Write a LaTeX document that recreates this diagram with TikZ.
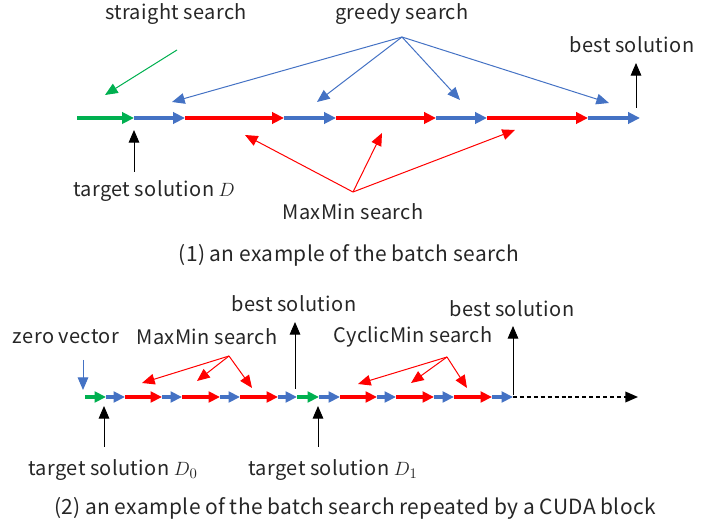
\documentclass[tikz,border=0pt]{standalone}
\usepackage{fontspec}
\setmainfont[WordSpace=0.9,LetterSpace=2]{Noto Sans CJK JP}
\usetikzlibrary{arrows.meta}
\definecolor{sgreen}{RGB}{0,176,80}
\definecolor{gblue}{RGB}{68,114,196}
\definecolor{mred}{RGB}{255,0,0}
\tikzset{
  seg/.style={line width=2.5pt,-{Triangle[length=9pt,width=8.5pt]}},
  smallseg/.style={line width=2.4pt,-{Triangle[length=8.5pt,width=8pt]}},
  pointer/.style={line width=0.75pt,-{Triangle[length=9.5pt,width=8pt]}},
  lbl/.style={font=\fontsize{15}{18}\selectfont,inner sep=0pt,text=black!85},
  caption/.style={lbl,font=\fontsize{15.7}{18}\selectfont}
}
\begin{document}
\begin{tikzpicture}[x=0.75pt,y=-0.75pt]
  \useasboundingbox (0,0) rectangle (725,523);
  % (1) one batch search
  \foreach \x [count=\i from 0] in {77,134,185,284,336,436,487,588,640}
    \coordinate (t\i) at (\x,118);
  \foreach \a/\b/\c in {0/1/sgreen,1/2/gblue,2/3/mred,3/4/gblue,4/5/mred,5/6/gblue,6/7/mred,7/8/gblue}
    \draw[seg,\c] (t\a) -- (t\b);
  \begin{scope}[every node/.style={lbl}]
    \node (straight) at (176,14) {straight search};
    \node (greedy) at (402,14) {greedy search};
    \node (best) at (632,45) {best solution};
    \node (target) at (154,191) {target solution $D$};
    \node (maxmin) at (353,212) {MaxMin search};
    \node[caption] (cap1) at (349,255) {(1) an example of the batch search};
  \end{scope}
  \coordinate (sfrom) at (177,50);   \coordinate (sto) at (105,95);
  \coordinate (gapex) at (402,37);
  \coordinate (g1) at (172,102); \coordinate (g2) at (317,102);
  \coordinate (g3) at (460,100); \coordinate (g4) at (609,103);
  \coordinate (mapex) at (353,192);
  \coordinate (m1) at (245,135); \coordinate (m2) at (382,133); \coordinate (m3) at (515,130);
  \coordinate (bestfoot) at (636,108); \coordinate (besttip) at (636,63);
  \coordinate (tfoot) at (134,172);   \coordinate (ttip) at (134,130);
  \draw[pointer,sgreen] (sfrom) -- (sto);
  \foreach \k in {1,...,4}
    \draw[pointer,gblue] (gapex) -- (g\k);
  \foreach \k in {1,2,3}
    \draw[pointer,mred] (mapex) -- (m\k);
  \draw[pointer,black] (bestfoot) -- (besttip);
  \draw[pointer,black] (tfoot) -- (ttip);

  % (2) batch searches repeated by a CUDA block
  \foreach \x [count=\i from 0] in {85,106,125,162,182,220,240,278,297,319,340,377,396,434,454,492,513}
    \coordinate (b\i) at (\x,397);
  \foreach \a/\b/\c in {0/1/sgreen,1/2/gblue,2/3/mred,3/4/gblue,4/5/mred,5/6/gblue,6/7/mred,7/8/gblue,
                        8/9/sgreen,9/10/gblue,10/11/mred,11/12/gblue,12/13/mred,13/14/gblue,14/15/mred,15/16/gblue}
    \draw[smallseg,\c] (b\a) -- (b\b);
  \coordinate (bend) at (638,397);
  \draw[line width=1.1pt,dash pattern=on 3pt off 2.2pt,-{Triangle[length=9.5pt,width=8pt]}] (b16) -- (bend);
  \begin{scope}[every node/.style={lbl}]
    \node (zero) at (66,337) {zero vector};
    \node (maxminB) at (207,337) {MaxMin search};
    \node (bestA) at (294,304) {best solution};
    \node (cyclic) at (413,337) {CyclicMin search};
    \node (bestB) at (512,309) {best solution};
    \node (targetA) at (113,470) {target solution $D_0$};
    \node (targetB) at (333,470) {target solution $D_1$};
    \node[caption] (cap2) at (355,508) {(2) an example of the batch search repeated by a CUDA block};
  \end{scope}
  \coordinate (zfrom) at (83,360);   \coordinate (zto) at (83,390);
  \coordinate (xapex) at (229,356);
  \coordinate (x1) at (142,383); \coordinate (x2) at (197,381); \coordinate (x3) at (252,388);
  \coordinate (capex) at (447,357);
  \coordinate (c1) at (358,384); \coordinate (c2) at (411,383); \coordinate (c3) at (467,388);
  \coordinate (bAfoot) at (295,389); \coordinate (bAtip) at (295,322);
  \coordinate (bBfoot) at (513,395); \coordinate (bBtip) at (513,326);
  \coordinate (tAfoot) at (104,447); \coordinate (tAtip) at (104,406);
  \coordinate (tBfoot) at (318,447); \coordinate (tBtip) at (318,406);
  \draw[pointer,gblue] (zfrom) -- (zto);
  \foreach \k in {1,2,3}{
    \draw[pointer,mred] (xapex) -- (x\k);
    \draw[pointer,mred] (capex) -- (c\k);
  }
  \draw[pointer,black] (bAfoot) -- (bAtip);
  \draw[pointer,black] (bBfoot) -- (bBtip);
  \draw[pointer,black] (tAfoot) -- (tAtip);
  \draw[pointer,black] (tBfoot) -- (tBtip);
\end{tikzpicture}
\end{document}
